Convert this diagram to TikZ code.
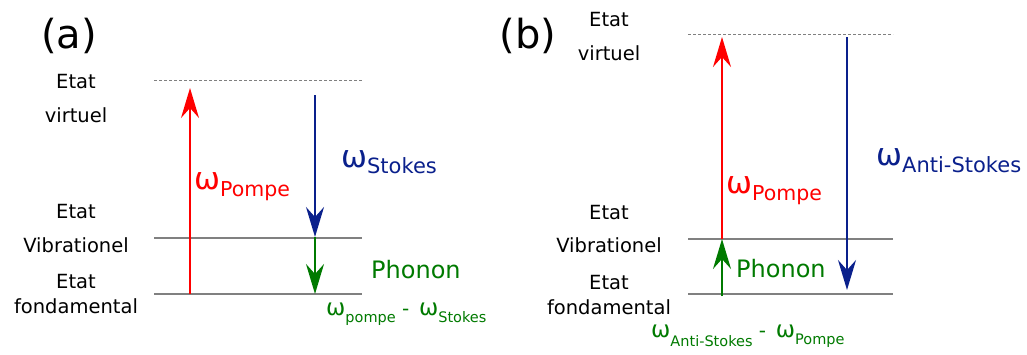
\documentclass[tikz,border=0pt]{standalone}
\usepackage{fontspec}
\setmainfont{DejaVu Sans}
\usetikzlibrary{arrows.meta}
\definecolor{cred}{RGB}{255,0,0}
\definecolor{cblue}{RGB}{10,32,140}
\definecolor{cgreen}{RGB}{0,122,0}
\definecolor{clevel}{RGB}{128,128,128}
\newcommand{\wlab}[4]{{\fontsize{#1}{#1}\selectfont ω}\raisebox{-#3}{\fontsize{#2}{#2}\selectfont #4}}
\begin{document}
\begin{tikzpicture}[x=1pt,y=-1pt,
  lvl/.style={draw=clevel,line width=1.8pt},
  virt/.style={draw=clevel,line width=1pt,dash pattern=on 3pt off 2pt},
  photon/.style={line width=1.8pt,-{Stealth[length=30pt,width=18pt,inset=10pt]}},
  statetxt/.style={anchor=base,inner sep=0pt,font=\fontsize{19.5}{19.5}\selectfont},
  lbl/.style={anchor=base west,inner sep=0pt},
  phon/.style={anchor=base west,inner sep=0pt,text=cgreen,font=\fontsize{24}{24}\selectfont},
  tag/.style={anchor=base,inner sep=0pt,font=\fontsize{40}{40}\selectfont}]
\useasboundingbox (0,0) rectangle (1027,354);
% ---------- (a) ----------
\node[tag] (ta) at (69,48) {(a)};
\coordinate (av1) at (154,80);  \coordinate (av2) at (362,80);
\coordinate (ab1) at (154,238); \coordinate (ab2) at (362,238);
\coordinate (ag1) at (154,294); \coordinate (ag2) at (362,294);
\draw[virt] (av1) -- (av2);
\draw[lvl] (ab1) -- (ab2);
\draw[lvl] (ag1) -- (ag2);
\coordinate (apS) at (190,294); \coordinate (apE) at (190,88);
\coordinate (asS) at (315,95);  \coordinate (asE) at (315,237);
\coordinate (anE) at (315,294);
\draw[photon,draw=cred,fill=cred] (apS) -- (apE);
\draw[photon,draw=cblue,fill=cblue] (asS) -- (asE);
\draw[photon,draw=cgreen,fill=cgreen] (asE) -- (anE);
\node[statetxt] (a1) at (76,88) {Etat};
\node[statetxt] (a2) at (76,122) {virtuel};
\node[statetxt] (a3) at (76,218) {Etat};
\node[statetxt] (a4) at (76,252) {Vibrationel};
\node[statetxt] (a5) at (76,288) {Etat};
\node[statetxt] (a6) at (76,313) {fondamental};
\node[lbl,text=cred] (alp) at (194,189) {\wlab{31}{20.5}{7pt}{Pompe}};
\node[lbl,text=cblue] (als) at (341,167) {\wlab{31}{21}{6pt}{Stokes}};
\node[phon] (alph) at (371,278) {Phonon};
\node[lbl,text=cgreen] (ald) at (326,315) {\wlab{23}{14.5}{7pt}{pompe}{\fontsize{20}{20}\selectfont\ -\ \,}\wlab{23}{14.5}{7pt}{Stokes}};
% ---------- (b) ----------
\node[tag] (tb) at (528,48) {(b)};
\coordinate (bv1) at (688,34);  \coordinate (bv2) at (893,34);
\coordinate (bb1) at (688,239); \coordinate (bb2) at (893,239);
\coordinate (bg1) at (688,294); \coordinate (bg2) at (893,294);
\draw[virt] (bv1) -- (bv2);
\draw[lvl] (bb1) -- (bb2);
\draw[lvl] (bg1) -- (bg2);
\coordinate (bnS) at (722,296); \coordinate (bnE) at (722,239);
\coordinate (bpE) at (722,37);
\coordinate (baS) at (847,37);  \coordinate (baE) at (847,290);
\draw[photon,draw=cred,fill=cred] (bnE) -- (bpE);
\draw[photon,draw=cgreen,fill=cgreen] (bnS) -- (bnE);
\draw[photon,draw=cblue,fill=cblue] (baS) -- (baE);
\node[statetxt] (b1) at (609,26) {Etat};
\node[statetxt] (b2) at (609,60) {virtuel};
\node[statetxt] (b3) at (609,219) {Etat};
\node[statetxt] (b4) at (609,252) {Vibrationel};
\node[statetxt] (b5) at (609,289) {Etat};
\node[statetxt] (b6) at (609,314) {fondamental};
\node[lbl,text=cred] (blp) at (726,193) {\wlab{31}{20.5}{7pt}{Pompe}};
\node[lbl,text=cblue] (bla) at (876,165) {\wlab{31}{21}{7pt}{Anti-Stokes}};
\node[phon] (blph) at (736,277) {Phonon};
\node[lbl,text=cgreen] (bld) at (651,337) {\wlab{23}{14.5}{9pt}{Anti-Stokes}{\fontsize{20}{20}\selectfont\ -\ \,}\wlab{23}{14.5}{7pt}{Pompe}};
\end{tikzpicture}
\end{document}
